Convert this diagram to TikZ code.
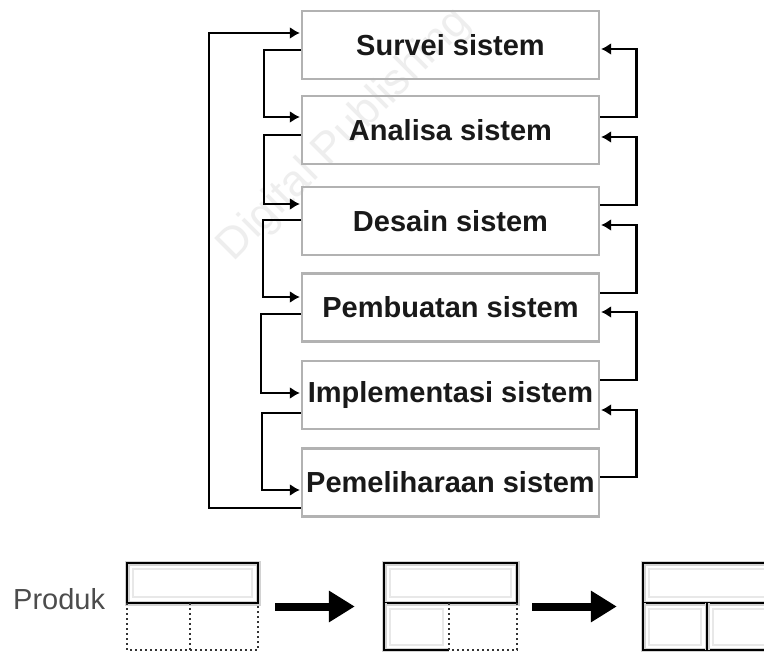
\documentclass[tikz,border=0pt]{standalone}
\usepackage{fontspec}
\setmainfont{Liberation Sans}
\usetikzlibrary{arrows.meta,calc}
\begin{document}
\begin{tikzpicture}[x=1pt,y=-1pt,
  stepbox/.style={draw=gray!60, line width=2.2pt, minimum width=297pt,
    minimum height=68pt, inner sep=0pt, text=black!90, font=\fontsize{29}{34}\selectfont\bfseries},
  conn/.style={line width=2.8pt, black, -{Latex[length=10pt,width=12pt]}, shorten >=1pt},
  solidcell/.style={draw=black, line width=2.6pt, preaction={draw=gray!35, line width=5pt}},
  dotline/.style={draw=black!80, line width=2pt, dash pattern=on 2pt off 3pt},
  innerrim/.style={draw=gray!18, line width=2pt},
  bigarr/.style={line width=8pt, black, -{Triangle[length=26pt,width=30pt]}},
  frame/.style={draw=none, inner sep=0pt}
]
\useasboundingbox[fill=white] (0,0) rectangle (764,652);

% watermark (faint, behind the text)
\node[rotate=45, text=gray!13, font=\fontsize{44}{50}\selectfont] (wm) at (345,135) {Digital Publishing};

% process boxes
\node[stepbox] (b1) at (450.5,45)    {Survei sistem};
\node[stepbox] (b2) at (450.5,130)   {Analisa sistem};
\node[stepbox] (b3) at (450.5,221)   {Desain sistem};
\node[stepbox] (b4) at (450.5,307.5) {Pembuatan sistem};
\node[stepbox] (b5) at (450.5,395)   {Implementasi sistem};
\node[stepbox] (b6) at (450.5,482.5) {Pemeliharaan sistem};

% left loops (downward)
\draw[conn] ($(b1.west)+(0,5)$)    -- ++(-37,0) |- ($(b2.west)+(0,-13)$);
\draw[conn] ($(b2.west)+(0,5)$)    -- ++(-37,0) |- ($(b3.west)+(0,-17)$);
\draw[conn] ($(b3.west)+(0,-1)$)   -- ++(-38,0) |- ($(b4.west)+(0,-10.5)$);
\draw[conn] ($(b4.west)+(0,6.5)$)  -- ++(-40,0) |- ($(b5.west)+(0,-2)$);
\draw[conn] ($(b5.west)+(0,18)$)   -- ++(-39,0) |- ($(b6.west)+(0,7.5)$);
% big loop
\draw[conn] ($(b6.west)+(0,25.5)$) -- ++(-92,0) |- ($(b1.west)+(0,-12)$);

% right loops (upward)
\draw[conn] ($(b2.east)+(0,-13)$)   -- ++(36,0) |- ($(b1.east)+(0,4)$);
\draw[conn] ($(b3.east)+(0,-16)$)   -- ++(36,0) |- ($(b2.east)+(0,7)$);
\draw[conn] ($(b4.east)+(0,-14.5)$) -- ++(36,0) |- ($(b3.east)+(0,4)$);
\draw[conn] ($(b5.east)+(0,-15)$)   -- ++(36,0) |- ($(b4.east)+(0,4.5)$);
\draw[conn] ($(b6.east)+(0,-5.5)$)  -- ++(36,0) |- ($(b5.east)+(0,15)$);

% product label
\node[anchor=west, inner sep=0pt, text=black!70, font=\fontsize{29}{34}\selectfont] (produk) at (13,599) {Produk};

% product frames
\node[frame, minimum width=131pt, minimum height=87pt] (pa) at (192.5,606.5) {};
\node[frame, minimum width=133pt, minimum height=87pt] (pb) at (450.5,606.5) {};
\node[frame, minimum width=133pt, minimum height=87pt] (pc) at (709.5,606.5) {};

% product A
\draw[innerrim] (133,569) rectangle (252,597);
\draw[solidcell] (127,563) rectangle (258,603);
\draw[dotline] (127,603) -- (127,650) -- (258,650) -- (258,603);
\draw[dotline] (190,603) -- (190,650);

% product B
\draw[innerrim] (390,569) rectangle (511,597);
\draw[innerrim] (390,609) rectangle (443,645);
\draw[solidcell] (384,563) rectangle (517,603);
\draw[solidcell] (384,603) -- (384,650) -- (449,650);
\draw[dotline] (449,603) -- (449,650) -- (517,650) -- (517,603);

% product C
\draw[innerrim] (649,569) rectangle (770,597);
\draw[innerrim] (649,609) rectangle (701,645);
\draw[innerrim] (713,609) rectangle (770,645);
\draw[solidcell] (643,563) rectangle (775,603);
\draw[solidcell] (643,603) -- (643,650) -- (775,650);
\draw[solidcell] (707,603) -- (707,650);

% arrows between products
\draw[bigarr, shorten <=17pt, shorten >=29pt] (pa.east) -- (pb.west);
\draw[bigarr, shorten <=15pt, shorten >=26pt] (pb.east) -- (pc.west);
\end{tikzpicture}
\end{document}
